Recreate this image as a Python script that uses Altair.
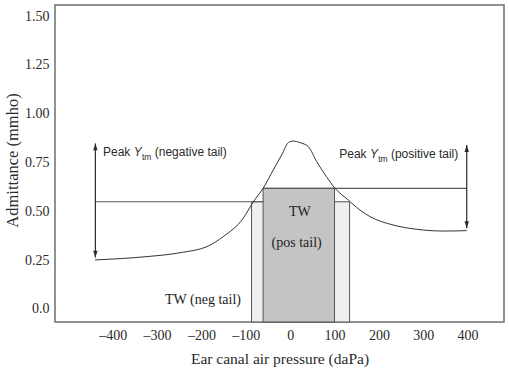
import altair as alt
import pandas as pd

# ---- data ----
pressure = [-440, -323, -248, -184, -151, -106, -83, -61, -38, -19, -4, 7, 22,
            41, 60, 82, 101, 131, 139, 180, 232, 285, 345, 398]
admittance = [0.251, 0.268, 0.288, 0.323, 0.370, 0.464, 0.549, 0.618, 0.712, 0.789,
              0.852, 0.860, 0.852, 0.831, 0.754, 0.677, 0.618, 0.558, 0.541, 0.473,
              0.430, 0.408, 0.399, 0.401]

bar_name = ["TW neg tail", "TW pos tail"]
bar_x1 = [-87, -61]
bar_x2 = [134, 100]
bar_top = [0.549, 0.618]
bar_fill = ["#efefef", "#c4c4c4"]

tail_y = [0.549, 0.618]
tail_x1 = [-440, -61]
tail_x2 = [-61, 398]

arrow_x = [-439, 398]
arrow_low = [0.263, 0.413]
arrow_high = [0.848, 0.840]

peak_text = ["(negative tail)", "(positive tail)"]
peak_x = [-421.8, 110.6]
peak_y = [0.783, 0.773]

tw_text = ["TW", "(pos tail)", "TW (neg tail)"]
tw_x = [22, 14.6, -110.9]
tw_y = [0.498, 0.336, 0.045]
tw_align = ["center", "center", "right"]

x_ticks = [-400, -300, -200, -100, 0, 100, 200, 300, 400]
y_ticks = [0.0, 0.25, 0.5, 0.75, 1.0, 1.25, 1.5]
X_DOMAIN = [-530, 482]
Y_DOMAIN = [-0.067, 1.557]

SERIF = "Liberation Serif"
SANS = "Liberation Sans"

curve_df = pd.DataFrame({"x": pressure, "y": admittance})
bar_df = pd.DataFrame({"name": bar_name, "x": bar_x1, "x2": bar_x2, "y": bar_top,
                       "y2": [Y_DOMAIN[0]] * 2, "fill": bar_fill})
tail_df = pd.DataFrame({"x": tail_x1, "x2": tail_x2, "y": tail_y})
arrow_df = pd.DataFrame({"x": arrow_x, "y": arrow_low, "y2": arrow_high})
peak_df = pd.DataFrame({"x": peak_x, "y": peak_y, "t": peak_text})
tw_df = pd.DataFrame({"x": tw_x, "y": tw_y, "t": tw_text, "a": tw_align})

XS = alt.Scale(domain=X_DOMAIN, nice=False, zero=False)
YS = alt.Scale(domain=Y_DOMAIN, nice=False, zero=False)

XAX = alt.Axis(values=x_ticks,
               labelExpr="datum.value < 0 ? '\u2013' + format(-datum.value, 'd') : format(datum.value, 'd')",
               grid=False, ticks=False, tickSize=0, domain=False,
               labelFont=SERIF, labelFontSize=14, labelColor="#2a2a2a",
               labelPadding=6, labelOverlap=False, labelFlush=False,
               titleFont=SERIF, titleFontSize=15.5, titleFontWeight="normal",
               titleColor="#2a2a2a", titleBaseline="middle", titleY=36)
YAX = alt.Axis(values=y_ticks,
               labelExpr="datum.value == 0 ? '0.0' : format(datum.value, '.2f')",
               grid=False, ticks=False, tickSize=0, domain=False,
               labelFont=SERIF, labelFontSize=14, labelColor="#2a2a2a",
               labelPadding=6, labelOverlap=False, labelFlush=False,
               titleFont=SERIF, titleFontSize=16.5, titleFontWeight="normal",
               titleColor="#2a2a2a", titleAngle=-90, titleBaseline="middle",
               titleAlign="center", titleX=-43, titleY=155)

XT = "Ear canal air pressure (daPa)"
YT = "Admittance (mmho)"


def X(f):
    return alt.X(f, type="quantitative", scale=XS, axis=XAX, title=XT)


def Y(f):
    return alt.Y(f, type="quantitative", scale=YS, axis=YAX, title=YT)


bars = alt.Chart(bar_df).mark_rect(stroke="#555555", strokeWidth=1).encode(
    x=X("x"), x2="x2", y=Y("y"), y2="y2",
    fill=alt.Fill("fill:N", scale=None),
    order=alt.Order("name:N"))

tails = alt.Chart(tail_df).mark_rule(color="#5a5a5a", strokeWidth=1.2).encode(
    x=X("x"), x2="x2", y=Y("y"))

curve = alt.Chart(curve_df).mark_line(color="#333333", strokeWidth=1,
                                      interpolate="monotone").encode(
    x=X("x"), y=Y("y"))

shafts = alt.Chart(arrow_df).mark_rule(color="#2a2a2a", strokeWidth=1.2).encode(
    x=X("x"), y=Y("y"), y2="y2")
heads_up = alt.Chart(arrow_df).mark_point(
    shape="M0,0L-0.7,2.2L0.7,2.2Z", filled=True, size=40, color="#2a2a2a", opacity=1
).encode(x=X("x"), y=Y("y2"))
heads_down = alt.Chart(arrow_df).mark_point(
    shape="M0,0L-0.7,-2.2L0.7,-2.2Z", filled=True, size=40, color="#2a2a2a", opacity=1
).encode(x=X("x"), y=Y("y"))

base_peak = alt.Chart(peak_df)
txt_kw = dict(align="left", baseline="alphabetic", font=SANS, fontSize=12, color="#2a2a2a")
peak1 = base_peak.mark_text(**txt_kw).encode(x=X("x"), y=Y("y"), text=alt.value("Peak"))
peak2 = base_peak.mark_text(**txt_kw, dx=30.7, fontStyle="italic").encode(
    x=X("x"), y=Y("y"), text=alt.value("Y"))
peak3 = base_peak.mark_text(align="left", baseline="alphabetic", font=SANS, fontSize=8.5,
                            color="#2a2a2a", dx=39, dy=4).encode(
    x=X("x"), y=Y("y"), text=alt.value("tm"))
peak4 = base_peak.mark_text(**txt_kw, dx=51.7).encode(x=X("x"), y=Y("y"), text="t:N")

tw_center = alt.Chart(tw_df).transform_filter("datum.a == 'center'").mark_text(
    align="center", baseline="middle", font=SERIF, fontSize=14, color="#1e1e1e").encode(
    x=X("x"), y=Y("y"), text="t:N")
tw_right = alt.Chart(tw_df).transform_filter("datum.a == 'right'").mark_text(
    align="right", baseline="middle", font=SERIF, fontSize=14, color="#1e1e1e").encode(
    x=X("x"), y=Y("y"), text="t:N")

chart = alt.layer(
    bars, tails, curve, shafts, heads_up, heads_down,
    peak1, peak2, peak3, peak4, tw_center, tw_right
).properties(
    width=449, height=317,
    autosize=alt.AutoSizeParams(type="none"),
    padding={"left": 55, "top": 5, "right": 5, "bottom": 48},
    background="white",
).configure_view(stroke="#6e6e6e", strokeWidth=1.5)

chart.save("out.html", embed_options={"renderer": "svg", "actions": False})
